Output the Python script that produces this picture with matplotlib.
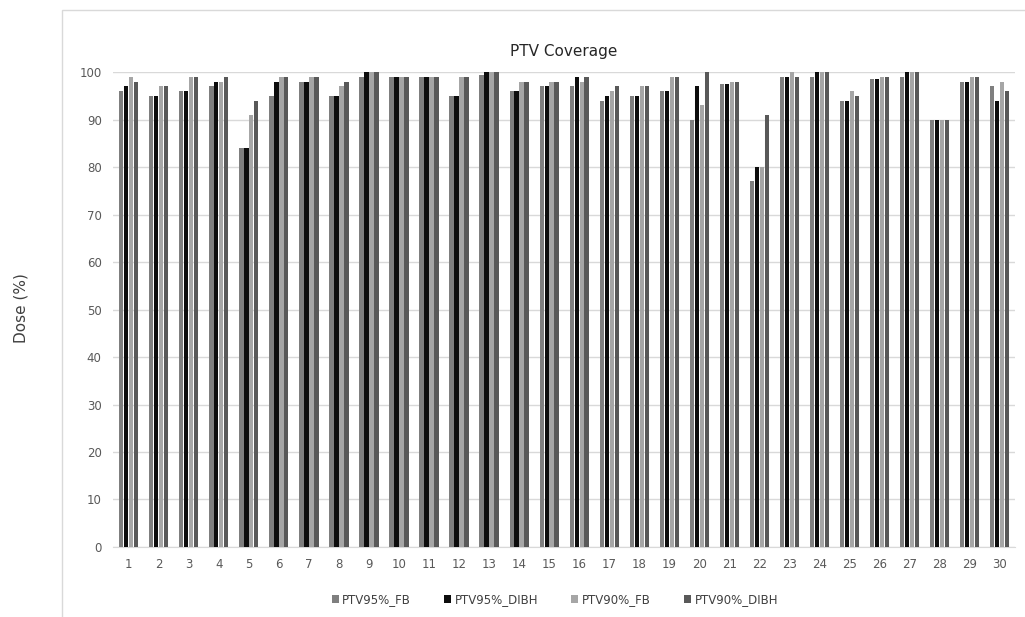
import numpy as np
import matplotlib
matplotlib.use("Agg")
import matplotlib.pyplot as plt
from matplotlib.patches import Rectangle

# patients and dose coverage values
patients = list(range(1, 31))
ptv95_fb = [96, 95, 96, 97, 84, 95, 98, 95, 99, 99, 99, 95, 99.5, 96, 97,
            97, 94, 95, 96, 90, 97.5, 77, 99, 99, 94, 98.5, 99, 90, 98, 97]
ptv95_dibh = [97, 95, 96, 98, 84, 98, 98, 95, 100, 99, 99, 95, 100, 96, 97,
              99, 95, 95, 96, 97, 97.5, 80, 99, 100, 94, 98.5, 100, 90, 98, 94]
ptv90_fb = [99, 97, 99, 98, 91, 99, 99, 97, 100, 99, 99, 99, 100, 98, 98,
            98, 96, 97, 99, 93, 98, 80, 100, 100, 96, 99, 100, 90, 99, 98]
ptv90_dibh = [98, 97, 99, 99, 94, 99, 99, 98, 100, 99, 99, 99, 100, 98, 98,
              99, 97, 97, 99, 100, 98, 91, 99, 100, 95, 99, 100, 90, 99, 96]

series = [("PTV95%_FB", ptv95_fb, "#7f7f7f"),
          ("PTV95%_DIBH", ptv95_dibh, "#0d0d0d"),
          ("PTV90%_FB", ptv90_fb, "#a6a6a6"),
          ("PTV90%_DIBH", ptv90_dibh, "#595959")]

fig = plt.figure(figsize=(10.25, 6.17), dpi=100)
ax = fig.add_axes([0.110, 0.1135, 0.880, 0.7695])

x = np.arange(len(patients)) + 1
step = 0.165
width = 0.145
for i, (name, vals, col) in enumerate(series):
    ax.bar(x + (i - 1.5) * step, vals, width, color=col, label=name, zorder=3)

ax.set_xlim(0.47, 30.5)
ax.set_ylim(0, 100)
ax.set_yticks(range(0, 101, 10))
ax.set_xticks(x)
ax.set_xticklabels([str(p) for p in patients])
ax.grid(axis="y", color="#d9d9d9", linewidth=1, zorder=0)
for s in ["top", "right", "left"]:
    ax.spines[s].set_visible(False)
ax.spines["bottom"].set_color("#d9d9d9")
ax.tick_params(length=0, labelsize=8.5, labelcolor="#595959", pad=8)

ax.set_title("PTV Coverage", fontsize=11, color="#262626", pad=12)
fig.text(0.02, 0.5, "Dose (%)", rotation=90, va="center", ha="center",
         fontsize=11, color="#404040")

ax.legend(loc="upper center", bbox_to_anchor=(0.49, -0.075), ncol=4,
          frameon=False, fontsize=8.5, handlelength=0.6, handleheight=0.6,
          handletextpad=0.3, columnspacing=2.8, labelcolor="#404040")

# chart area border
fig.patches.append(Rectangle((0.0605, -0.01), 0.95, 0.994, transform=fig.transFigure,
                             fill=False, edgecolor="#d9d9d9", linewidth=1))

fig.savefig("out.png", dpi=100)
